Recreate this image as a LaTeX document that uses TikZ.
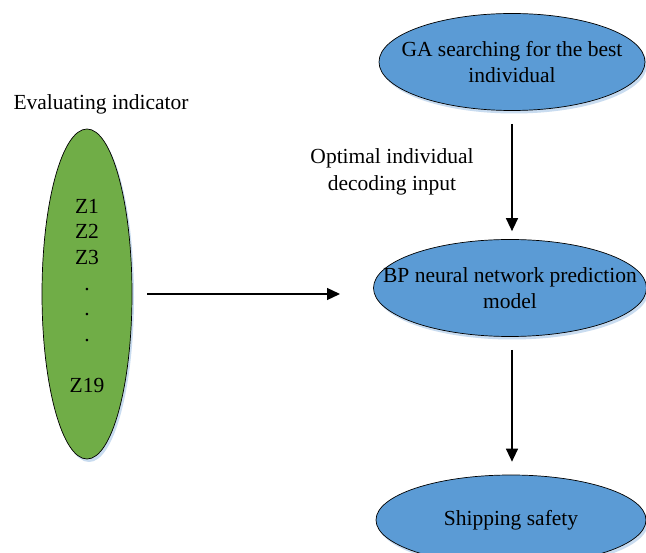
\documentclass[tikz,border=0pt]{standalone}
\usepackage{fontspec}
\setmainfont{Liberation Serif}
\usetikzlibrary{shapes.geometric,arrows.meta,shadows}
\definecolor{bluefill}{HTML}{5B9BD5}
\definecolor{greenfill}{HTML}{70AD47}
\definecolor{shadowc}{HTML}{C9DCF0}
\begin{document}
\begin{tikzpicture}[x=1pt,y=-1pt,
  txt/.style={font=\fontsize{21.5}{26.5}\selectfont, align=center, inner sep=0pt},
  oval/.style={ellipse, draw=black, line width=0.7pt, inner sep=0pt,
    drop shadow={fill=shadowc, opacity=1, shadow xshift=2pt, shadow yshift=-3pt}},
  blueoval/.style={oval, fill=bluefill},
  greenoval/.style={oval, fill=greenfill},
  conn/.style={line width=1.3pt, -{Triangle[length=13pt,width=12pt]}}
]
\useasboundingbox (0,0) rectangle (646,553);
\fill[white] (0,0) rectangle (646,553);

\node[blueoval, minimum width=266pt, minimum height=97pt] (ga) at (512,62) {};
\node[txt] (gat) at (ga.center) {GA searching for the best\\individual};
\node[blueoval, minimum width=273pt, minimum height=97pt] (bp) at (510,288) {};
\node[txt] (bpt) at (bp.center) {BP neural network prediction\\model};
\node[blueoval, minimum width=270pt, minimum height=90pt] (ship) at (511,520) {};
\node[txt] (shipt) at (ship.center) {Shipping safety};
\node[greenoval, minimum width=90pt, minimum height=330pt] (z) at (87,294) {};
\node[txt, font=\fontsize{21.5}{25.7}\selectfont] (zt) at ([yshift=-2pt]z.center) {Z1\\Z2\\Z3\\.\\.\\.\\[25.7pt]Z19};

\node[txt] (evl) at (101,104) {Evaluating indicator};
\node[txt] (opt) at (392,172) {Optimal individual\\decoding input};

\draw[conn, shorten <=13pt, shorten >=8pt] (ga.south -| 512,0) -- (bp.north -| 512,0);
\draw[conn, shorten <=13pt, shorten >=13pt] (bp.south -| 512,0) -- (ship.north -| 512,0);
\coordinate (hend) at (340,294);
\draw[conn, shorten <=15pt] (z.east) -- (hend);
\end{tikzpicture}
\end{document}
